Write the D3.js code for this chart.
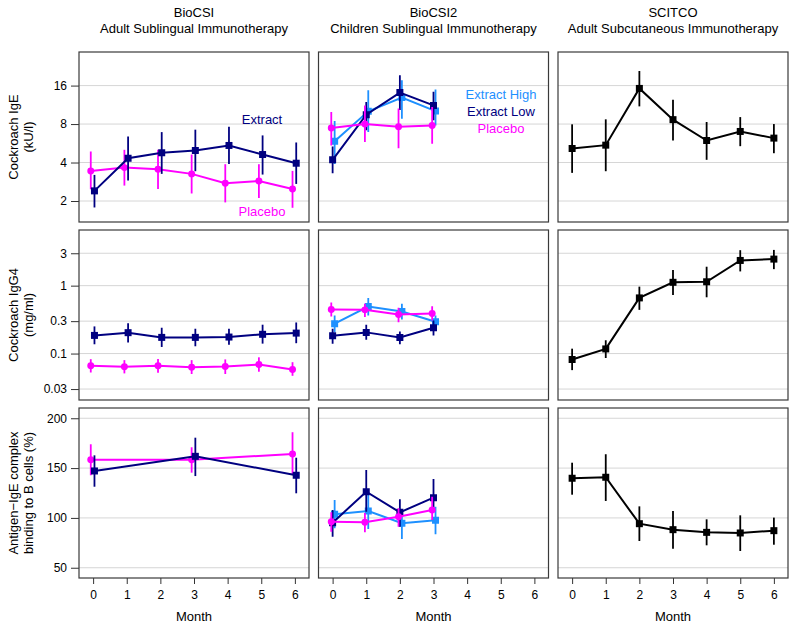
<!DOCTYPE html>
<html>
<head>
<meta charset="utf-8">
<script src="https://cdn.jsdelivr.net/npm/d3@7"></script>
<style>
  body { margin: 0; background: #fff; }
  svg { font-family: "Liberation Sans", Arial, Helvetica, sans-serif; }
</style>
</head>
<body>
<div id="chart"></div>
<script>
// months on the x axis
let monthsAll = [0, 1, 2, 3, 4, 5, 6];
let monthsChild = [0, 1, 2, 3];
let monthsBinding = [0, 3, 6];
let monthTicks = [0, 1, 2, 3, 4, 5, 6];

// every point is [mean, lower, upper]
// Cockroach IgE (kU/l)
let igeAdultExtract = [[2.40,1.78,3.20],[4.32,2.89,6.40],[4.77,3.26,6.92],[4.97,3.42,7.23],[5.44,3.90,7.63],[4.62,3.22,6.52],[3.95,2.72,5.74]];
let igeAdultPlacebo = [[3.44,2.47,4.88],[3.65,2.64,5.03],[3.54,2.48,5.03],[3.26,2.29,4.62],[2.75,1.95,3.88],[2.87,2.11,3.88],[2.48,1.77,3.44]];
let igeChildHigh = [[5.86,3.90,8.44],[10.06,6.92,14.7],[12.9,8.80,17.6],[10.1,7.80,14.9]];
let igeChildLow = [[4.20,3.30,5.35],[9.48,7.14,11.9],[14.1,10.3,19.3],[11.2,8.56,14.3]];
let igeChildPlacebo = [[7.44,5.44,9.94],[8.00,5.78,11.2],[7.63,5.18,10.6],[7.80,5.60,10.9]];
let igeScit = [[5.15,3.32,7.96],[5.47,3.42,8.71],[15.2,11.0,20.8],[8.66,5.95,12.4],[5.95,4.20,8.30],[7.00,5.37,9.07],[6.21,4.73,8.00]];

// Cockroach IgG4 (mg/ml)
let igg4AdultExtract = [[0.185,0.137,0.251],[0.203,0.146,0.280],[0.173,0.125,0.240],[0.173,0.128,0.232],[0.175,0.135,0.232],[0.192,0.140,0.266],[0.200,0.142,0.287]];
let igg4AdultPlacebo = [[0.066,0.0526,0.0826],[0.0637,0.051,0.080],[0.066,0.052,0.083],[0.063,0.050,0.080],[0.0645,0.050,0.082],[0.069,0.054,0.088],[0.0583,0.047,0.0746]];
let igg4ChildHigh = [[0.275,0.207,0.364],[0.493,0.364,0.660],[0.416,0.318,0.540],[0.294,0.232,0.364]];
let igg4ChildLow = [[0.183,0.140,0.232],[0.205,0.160,0.266],[0.173,0.137,0.212],[0.240,0.185,0.307]];
let igg4ChildPlacebo = [[0.445,0.352,0.564],[0.440,0.344,0.540],[0.376,0.290,0.471],[0.389,0.307,0.498]];
let igg4Scit = [[0.0817,0.057,0.118],[0.117,0.086,0.157],[0.66,0.44,0.967],[1.12,0.73,1.70],[1.14,0.674,1.90],[2.35,1.62,3.33],[2.46,1.75,3.36]];

// Antigen-IgE complex binding to B cells (%)
let bindAdultExtract = [[147.1,131.3,162.8],[161.8,142.0,180.5],[142.8,124.7,160.4]];
let bindAdultPlacebo = [[158.4,142.8,173.9],[158.4,145.4,170.9],[164.2,143.1,186.0]];
let bindChildHigh = [[103.6,89.6,118.0],[106.9,88.9,123.0],[94.6,78.8,108.0],[97.6,83.6,111.3]];
let bindChildLow = [[95.2,81.1,108.0],[126.3,106.2,148.1],[105.6,91.2,118.7],[120.3,108.0,139.1]];
let bindChildPlacebo = [[96.2,86.0,105.6],[95.6,85.5,105.0],[101.2,91.2,109.6],[108.0,97.9,121.3]];
let bindScit = [[139.8,123.3,155.4],[140.8,117.0,163.9],[94.2,76.8,111.6],[88.2,69.1,107.0],[85.5,72.5,98.6],[84.9,66.8,102.6],[87.2,73.1,100.3]];

// tick labels
let igeTicks = [2, 4, 8, 16];
let igg4Ticks = [0.03, 0.1, 0.3, 1, 3];
let bindTicks = [50, 100, 150, 200];

let studyNames = ["BioCSI", "BioCSI2", "SCITCO"];
let studyTypes = ["Adult Sublingual Immunotherapy", "Children Sublingual Immunotherapy", "Adult Subcutaneous Immunotherapy"];
let rowTitles = [["Cockroach IgE", "(kU/l)"], ["Cockroach IgG4", "(mg/ml)"], ["Antigen\u2212IgE complex", "binding to B cells (%)"]];

let navy = "#000080", pink = "#ff00ff", sky = "#1e90ff", black = "#000000";

let width = 795, height = 628;
let colX = [79, 318.5, 558];
let rowY = [52, 230, 408];
let pw = 230, ph = 170;

// y scales, one per row
let yScales = [
  d3.scaleLog().domain([1.37, 29.3]).range([ph, 0]),
  d3.scaleLog().domain([0.0207, 6.6]).range([ph, 0]),
  d3.scaleLinear().domain([39.7, 210.3]).range([ph, 0])
];
let yTicks = [igeTicks, igg4Ticks, bindTicks];
let tickFmt = [d3.format("d"), d => String(d), d3.format("d")];

let x = d3.scaleLinear().domain([-0.42, 6.42]).range([0, pw]);

function series(months, vals, color, shape, dx) {
  return { pts: months.map((m, i) => ({ m: m, v: vals[i][0], lo: vals[i][1], hi: vals[i][2] })), color: color, shape: shape, dx: dx };
}

// panels[row][col] -> list of series
let panels = [
  [
    [series(monthsAll, igeAdultPlacebo, pink, "c", -0.07), series(monthsAll, igeAdultExtract, navy, "s", 0.04)],
    [series(monthsChild, igeChildHigh, sky, "s", 0.06), series(monthsChild, igeChildLow, navy, "s", 0), series(monthsChild, igeChildPlacebo, pink, "c", -0.04)],
    [series(monthsAll, igeScit, black, "s", 0)]
  ],
  [
    [series(monthsAll, igg4AdultPlacebo, pink, "c", -0.07), series(monthsAll, igg4AdultExtract, navy, "s", 0.04)],
    [series(monthsChild, igg4ChildHigh, sky, "s", 0.06), series(monthsChild, igg4ChildLow, navy, "s", 0), series(monthsChild, igg4ChildPlacebo, pink, "c", -0.04)],
    [series(monthsAll, igg4Scit, black, "s", 0)]
  ],
  [
    [series(monthsBinding, bindAdultPlacebo, pink, "c", -0.07), series(monthsBinding, bindAdultExtract, navy, "s", 0.04)],
    [series(monthsChild, bindChildHigh, sky, "s", 0.06), series(monthsChild, bindChildLow, navy, "s", 0), series(monthsChild, bindChildPlacebo, pink, "c", -0.04)],
    [series(monthsAll, bindScit, black, "s", 0)]
  ]
];

let svg = d3.select("#chart").append("svg")
  .attr("width", width)
  .attr("height", height);

// column titles
studyNames.forEach((name, c) => {
  let cx = colX[c] + pw / 2;
  svg.append("text").attr("x", cx).attr("y", 17).attr("text-anchor", "middle")
    .attr("font-size", 13).text(name);
  svg.append("text").attr("x", cx).attr("y", 33).attr("text-anchor", "middle")
    .attr("font-size", 13).text(studyTypes[c]);
});

// row titles
rowTitles.forEach((lines, r) => {
  let cy = rowY[r] + ph / 2;
  lines.forEach((t, k) => {
    svg.append("text")
      .attr("transform", "translate(" + (13 + k * 15) + "," + cy + ") rotate(-90)")
      .attr("text-anchor", "middle")
      .attr("dominant-baseline", "central")
      .attr("font-size", 13)
      .text(t);
  });
});

for (let r = 0; r < 3; r++) {
  let y = yScales[r];
  for (let c = 0; c < 3; c++) {
    let g = svg.append("g").attr("transform", "translate(" + colX[c] + "," + rowY[r] + ")");

    // grid
    g.selectAll(".grid").data(yTicks[r]).join("line")
      .attr("x1", 0).attr("x2", pw)
      .attr("y1", d => y(d)).attr("y2", d => y(d))
      .attr("stroke", "#d6d6d6").attr("stroke-width", 1);

    // y axis on the left column
    if (c == 0) {
      let ax = g.append("g").call(d3.axisLeft(y).tickValues(yTicks[r]).tickFormat(tickFmt[r]).tickSize(8).tickPadding(4));
      ax.select(".domain").remove();
      ax.selectAll(".tick line").attr("stroke", "#333");
      ax.selectAll("text").attr("font-size", 12).attr("font-family", "Liberation Sans, Arial, sans-serif").attr("fill", "#000");
    }
    // x axis on the bottom row
    if (r == 2) {
      let ax = g.append("g").attr("transform", "translate(0," + ph + ")")
        .call(d3.axisBottom(x).tickValues(monthTicks).tickFormat(d3.format("d")).tickSize(6).tickPadding(6));
      ax.select(".domain").remove();
      ax.selectAll(".tick line").attr("stroke", "#333");
      ax.selectAll("text").attr("font-size", 12).attr("font-family", "Liberation Sans, Arial, sans-serif").attr("fill", "#000");
      svg.append("text").attr("x", colX[c] + pw / 2).attr("y", 621)
        .attr("text-anchor", "middle").attr("font-size", 13).text("Month");
    }

    let clip = "clip" + r + c;
    g.append("clipPath").attr("id", clip).append("rect").attr("width", pw).attr("height", ph);
    let plot = g.append("g").attr("clip-path", "url(#" + clip + ")");

    panels[r][c].forEach(s => {
      let px = d => x(d.m + s.dx);
      plot.selectAll(null).data(s.pts).join("line")
        .attr("x1", px).attr("x2", px)
        .attr("y1", d => y(d.lo)).attr("y2", d => y(d.hi))
        .attr("stroke", s.color).attr("stroke-width", 1.8);
      plot.append("path").datum(s.pts)
        .attr("fill", "none").attr("stroke", s.color).attr("stroke-width", 2)
        .attr("d", d3.line().x(px).y(d => y(d.v)));
      let sym = s.shape == "s" ? d3.symbol(d3.symbolSquare, 49) : d3.symbol(d3.symbolCircle, 38);
      plot.selectAll(null).data(s.pts).join("path")
        .attr("transform", d => "translate(" + px(d) + "," + y(d.v) + ")")
        .attr("d", sym)
        .attr("fill", s.color);
    });

    // panel border
    g.append("rect").attr("width", pw).attr("height", ph)
      .attr("fill", "none").attr("stroke", "#3a3a3a").attr("stroke-width", 1.2);
  }
}

// legends in the top row
let leg1 = [["Extract", navy, 119], ["Placebo", pink, 211]];
leg1.forEach(l => {
  svg.append("text").attr("x", 262).attr("y", l[2]).attr("text-anchor", "middle")
    .attr("dominant-baseline", "central").attr("font-size", 13).attr("fill", l[1]).text(l[0]);
});
let leg2 = [["Extract High", sky, 94], ["Extract Low", navy, 111], ["Placebo", pink, 128]];
leg2.forEach(l => {
  svg.append("text").attr("x", 501).attr("y", l[2]).attr("text-anchor", "middle")
    .attr("dominant-baseline", "central").attr("font-size", 13).attr("fill", l[1]).text(l[0]);
});
</script>
</body>
</html>
